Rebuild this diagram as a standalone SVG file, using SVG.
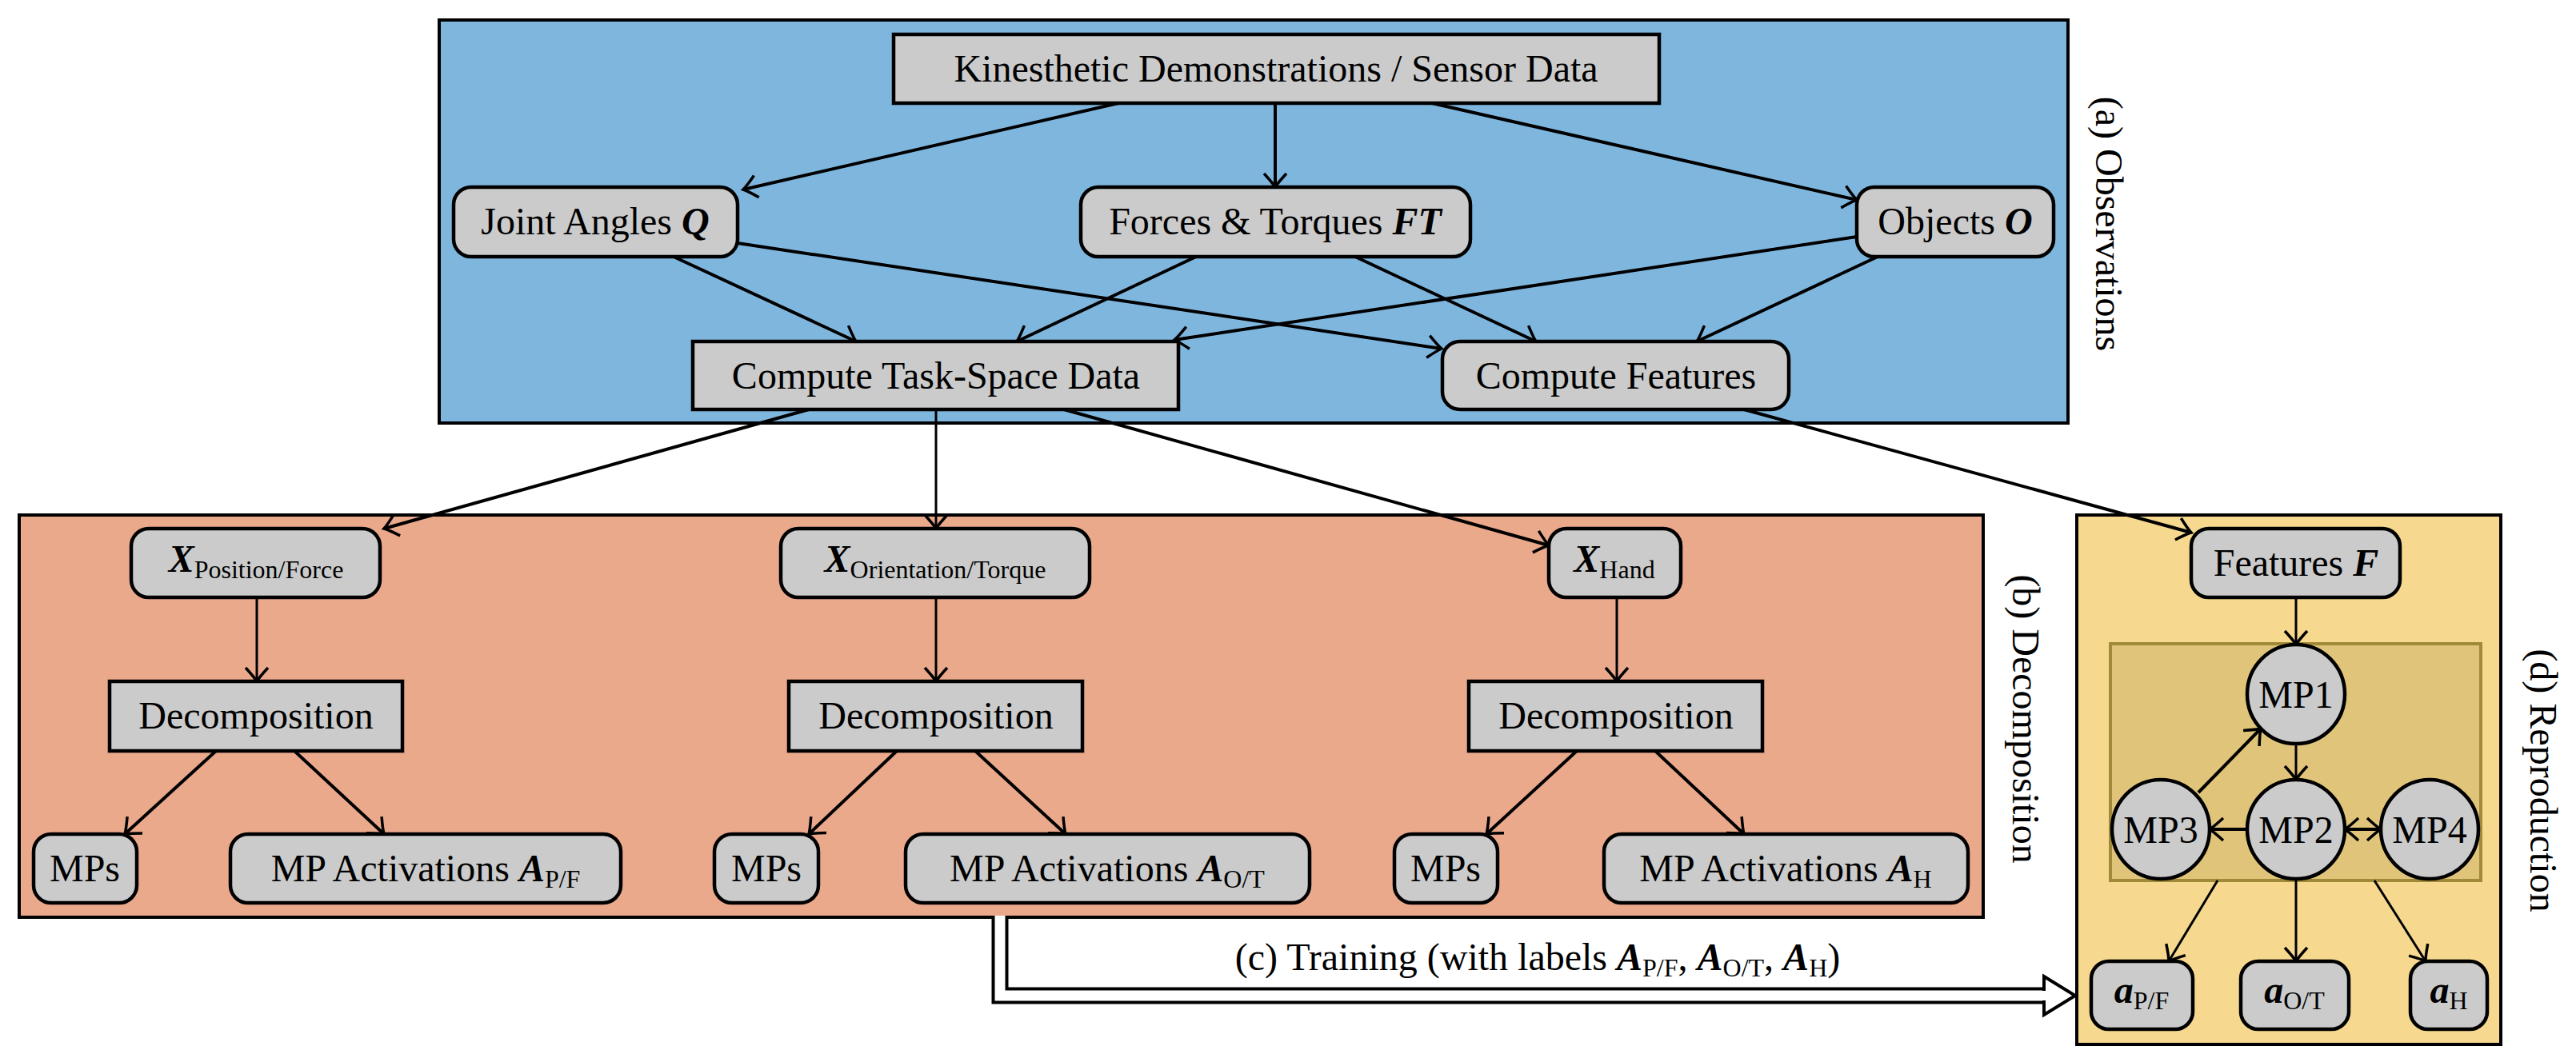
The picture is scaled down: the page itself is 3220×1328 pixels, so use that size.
<svg xmlns="http://www.w3.org/2000/svg" width="3220" height="1328" viewBox="0 0 3220 1328">
<defs>
<style>
text{font-family:"Liberation Serif","DejaVu Serif",serif;font-size:48px;fill:#000}
.n{fill:#cbcbcb;stroke:#000;stroke-width:4.5}
.e{fill:none;stroke:#000;stroke-width:4;marker-end:url(#ar)}
.t{fill:none;stroke:#000;stroke-width:3;marker-end:url(#ar)}
.m{font-style:italic;font-weight:bold}
.s{font-size:32px}
</style>
<marker id="ar" markerUnits="userSpaceOnUse" markerWidth="40" markerHeight="40" viewBox="-20 -20 40 40" refX="0" refY="0" orient="auto-start-reverse" overflow="visible">
<path d="M-17,-14 Q-5,-3 0,0 Q-5,3 -17,14" fill="none" stroke="#000" stroke-width="3.5"/>
</marker>
</defs>
<rect width="3220" height="1328" fill="#fff"/>
<g id="clusters">
<rect x="549" y="25" width="2036" height="504" fill="#7fb6de" stroke="#000" stroke-width="4"/>
<rect x="24" y="644" width="2455" height="503" fill="#eba98c" stroke="#000" stroke-width="4"/>
<rect x="2596" y="644" width="530" height="662" fill="#f6d98f" stroke="#000" stroke-width="4"/>
<rect x="2638" y="805" width="463" height="296" fill="#e0c47a" stroke="#a08a3a" stroke-width="4"/>
<text transform="translate(2620,280) rotate(90)" text-anchor="middle">(a) Observations</text>
<text transform="translate(2516,899) rotate(90)" text-anchor="middle">(b) Decomposition</text>
<text transform="translate(3163,976) rotate(90)" text-anchor="middle">(d) Reproduction</text>
</g>
<g id="connectors">
<line class="e" x1="1398" y1="129" x2="929" y2="237"/>
<line class="e" x1="1594" y1="129" x2="1594" y2="234"/>
<line class="e" x1="1790" y1="129" x2="2321" y2="250"/>
<line class="e" x1="842" y1="321" x2="1070" y2="427"/>
<line class="e" x1="922" y1="304" x2="1802" y2="436"/>
<line class="e" x1="1495" y1="321" x2="1271" y2="427"/>
<line class="e" x1="1694" y1="321" x2="1920" y2="427"/>
<line class="e" x1="2321" y1="296" x2="1468" y2="425"/>
<line class="e" x1="2347" y1="321" x2="2121" y2="427"/>
<line class="e" x1="1011" y1="512" x2="480" y2="661"/>
<line class="t" x1="1170" y1="512" x2="1170" y2="661"/>
<line class="e" x1="1330" y1="512" x2="1936" y2="682"/>
<line class="e" x1="2180" y1="512" x2="2739" y2="666"/>
<line class="t" x1="321" y1="747" x2="321" y2="852"/>
<line class="t" x1="1170" y1="747" x2="1170" y2="852"/>
<line class="t" x1="2021" y1="747" x2="2021" y2="852"/>
<line class="e" x1="270" y1="939" x2="156" y2="1043"/>
<line class="e" x1="368" y1="939" x2="480" y2="1043"/>
<line class="e" x1="1121" y1="939" x2="1011" y2="1043"/>
<line class="e" x1="1219" y1="939" x2="1332" y2="1043"/>
<line class="e" x1="1971" y1="939" x2="1858" y2="1043"/>
<line class="e" x1="2069" y1="939" x2="2180" y2="1043"/>
<line class="t" x1="2870" y1="747" x2="2870" y2="806"/>
<line class="t" x1="2870" y1="930" x2="2870" y2="975"/>
<line class="e" x1="2748" y1="991" x2="2826" y2="911"/>
<line class="e" x1="2809" y1="1037" x2="2762" y2="1037"/>
<line class="e" x1="2931" y1="1037" x2="2976" y2="1037" style="marker-start:url(#ar)"/>
<line class="t" x1="2772" y1="1101" x2="2711" y2="1202"/>
<line class="t" x1="2870" y1="1101" x2="2870" y2="1202"/>
<line class="t" x1="2968" y1="1101" x2="3032" y2="1202"/>
<path d="M1250,1147 V1245 H2556" fill="none" stroke="#000" stroke-width="21"/>
<path d="M1250,1145 V1245 H2560" fill="none" stroke="#fff" stroke-width="13"/>
<path d="M2555,1221 L2594,1245 L2555,1269 Z" fill="#fff" stroke="#000" stroke-width="4"/>
<rect x="2548" y="1239" width="10" height="12" fill="#fff"/>
<text x="1922" y="1213" text-anchor="middle">(c) Training (with labels <tspan class="m">A</tspan><tspan class="s" dy="8">P/F</tspan><tspan dy="-8">, </tspan><tspan class="m">A</tspan><tspan class="s" dy="8">O/T</tspan><tspan dy="-8">, </tspan><tspan class="m">A</tspan><tspan class="s" dy="8">H</tspan><tspan dy="-8">)</tspan></text>
</g>
<g id="kin"><rect class="n" x="1117" y="43" width="957" height="86"/><text x="1595" y="102" text-anchor="middle">Kinesthetic Demonstrations / Sensor Data</text></g>
<g id="ja"><rect class="n" x="567" y="234" width="355" height="87" rx="22"/><text x="744" y="293" text-anchor="middle">Joint Angles <tspan class="m">Q</tspan></text></g>
<g id="ft"><rect class="n" x="1351" y="234" width="487" height="87" rx="22"/><text x="1594" y="293" text-anchor="middle">Forces &amp; Torques <tspan class="m">FT</tspan></text></g>
<g id="obj"><rect class="n" x="2321" y="234" width="246" height="87" rx="22"/><text x="2444" y="293" text-anchor="middle">Objects <tspan class="m">O</tspan></text></g>
<g id="ctsd"><rect class="n" x="866" y="427" width="607" height="85"/><text x="1170" y="486" text-anchor="middle">Compute Task-Space Data</text></g>
<g id="cf"><rect class="n" x="1803" y="427" width="433" height="85" rx="22"/><text x="2020" y="486" text-anchor="middle">Compute Features</text></g>
<g id="xpf"><rect class="n" x="164" y="661" width="311" height="86" rx="22"/><text x="320" y="715" text-anchor="middle"><tspan class="m">X</tspan><tspan class="s" dy="8">Position/Force</tspan></text></g>
<g id="xot"><rect class="n" x="976" y="661" width="386" height="86" rx="22"/><text x="1169" y="715" text-anchor="middle"><tspan class="m">X</tspan><tspan class="s" dy="8">Orientation/Torque</tspan></text></g>
<g id="xh"><rect class="n" x="1936" y="661" width="165" height="86" rx="22"/><text x="2018" y="715" text-anchor="middle"><tspan class="m">X</tspan><tspan class="s" dy="8">Hand</tspan></text></g>
<g id="ff"><rect class="n" x="2739" y="661" width="261" height="86" rx="22"/><text x="2870" y="720" text-anchor="middle">Features <tspan class="m">F</tspan></text></g>
<g id="d1"><rect class="n" x="137" y="852" width="366" height="87"/><text x="320" y="911" text-anchor="middle">Decomposition</text></g>
<g id="d2"><rect class="n" x="986" y="852" width="367" height="87"/><text x="1170" y="911" text-anchor="middle">Decomposition</text></g>
<g id="d3"><rect class="n" x="1836" y="852" width="367" height="87"/><text x="2020" y="911" text-anchor="middle">Decomposition</text></g>
<g id="mps1"><rect class="n" x="42" y="1043" width="129" height="86" rx="22"/><text x="106" y="1102" text-anchor="middle">MPs</text></g>
<g id="mpa1"><rect class="n" x="288" y="1043" width="488" height="86" rx="22"/><text x="532" y="1102" text-anchor="middle">MP Activations <tspan class="m">A</tspan><tspan class="s" dy="8">P/F</tspan></text></g>
<g id="mps2"><rect class="n" x="893" y="1043" width="130" height="86" rx="22"/><text x="958" y="1102" text-anchor="middle">MPs</text></g>
<g id="mpa2"><rect class="n" x="1132" y="1043" width="505" height="86" rx="22"/><text x="1384" y="1102" text-anchor="middle">MP Activations <tspan class="m">A</tspan><tspan class="s" dy="8">O/T</tspan></text></g>
<g id="mps3"><rect class="n" x="1743" y="1043" width="129" height="86" rx="22"/><text x="1807" y="1102" text-anchor="middle">MPs</text></g>
<g id="mpa3"><rect class="n" x="2005" y="1043" width="455" height="86" rx="22"/><text x="2232" y="1102" text-anchor="middle">MP Activations <tspan class="m">A</tspan><tspan class="s" dy="8">H</tspan></text></g>
<g id="mp1"><ellipse class="n" cx="2870" cy="868" rx="61" ry="62"/><text x="2870" y="885" text-anchor="middle">MP1</text></g>
<g id="mp2"><ellipse class="n" cx="2870" cy="1037" rx="61" ry="62"/><text x="2870" y="1054" text-anchor="middle">MP2</text></g>
<g id="mp3"><ellipse class="n" cx="2701" cy="1037" rx="61" ry="62"/><text x="2701" y="1054" text-anchor="middle">MP3</text></g>
<g id="mp4"><ellipse class="n" cx="3037" cy="1037" rx="61" ry="62"/><text x="3037" y="1054" text-anchor="middle">MP4</text></g>
<g id="apf"><rect class="n" x="2614" y="1202" width="127" height="85" rx="22"/><text x="2677" y="1254" text-anchor="middle"><tspan class="m">a</tspan><tspan class="s" dy="8">P/F</tspan></text></g>
<g id="aot"><rect class="n" x="2801" y="1202" width="135" height="85" rx="22"/><text x="2868" y="1254" text-anchor="middle"><tspan class="m">a</tspan><tspan class="s" dy="8">O/T</tspan></text></g>
<g id="ah"><rect class="n" x="3013" y="1202" width="96" height="85" rx="22"/><text x="3061" y="1254" text-anchor="middle"><tspan class="m">a</tspan><tspan class="s" dy="8">H</tspan></text></g>
</svg>
